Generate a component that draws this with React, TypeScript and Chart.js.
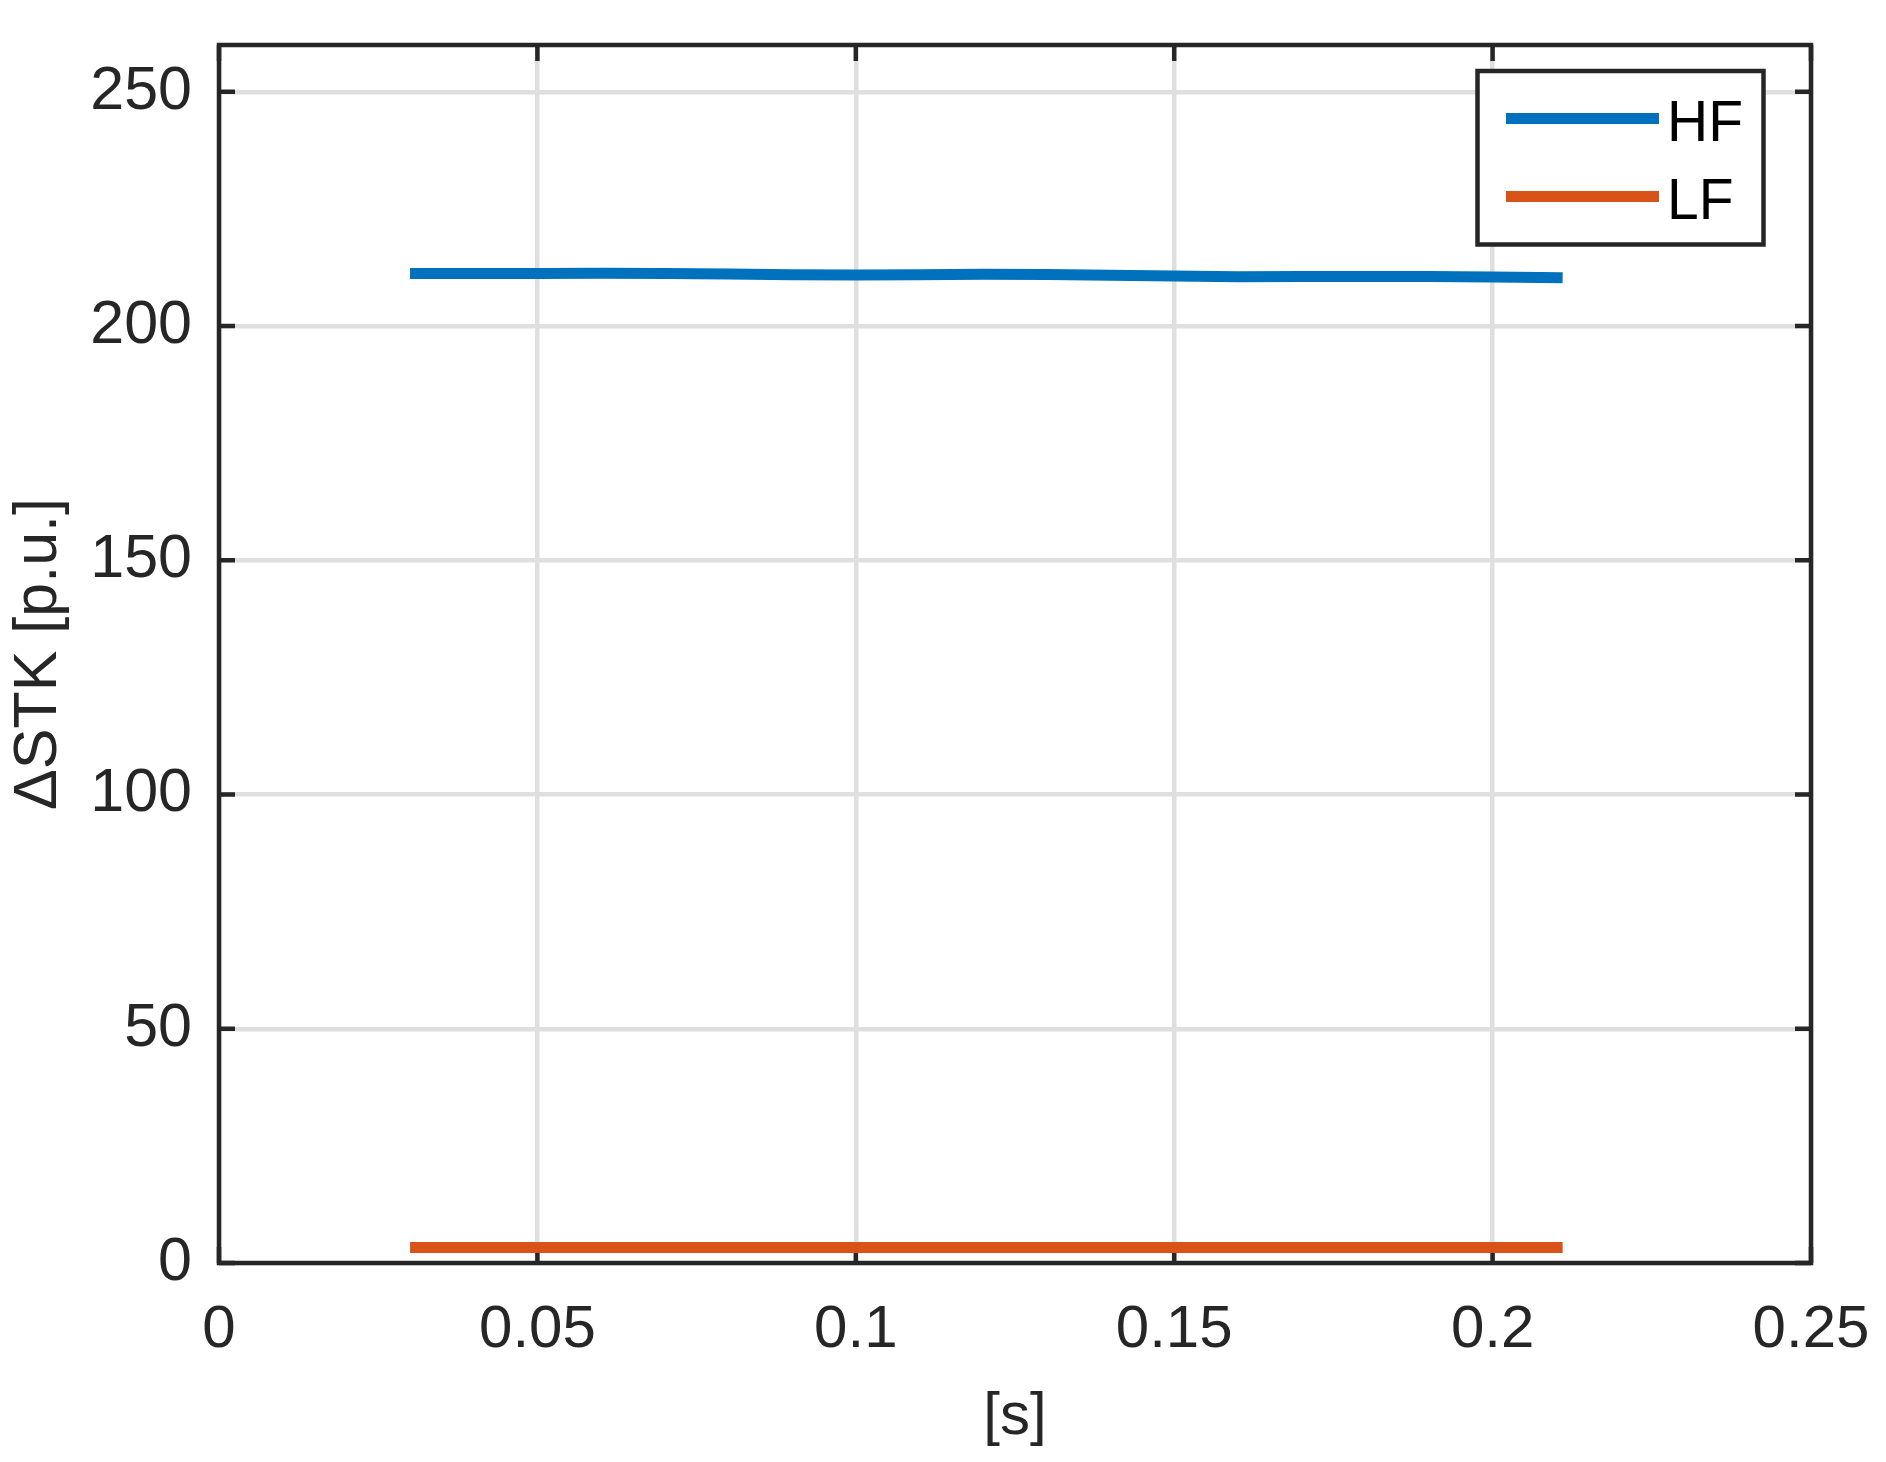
import React, { useEffect, useRef } from "react";
import { Chart, registerables } from "chart.js";

Chart.register(...registerables);

// ---- data ----
const xValues = [0.03, 0.04, 0.05, 0.06, 0.07, 0.08, 0.09, 0.1, 0.11, 0.12, 0.13, 0.14, 0.15, 0.16, 0.17, 0.18, 0.19, 0.2, 0.211];
const hfValues = [211.25, 211.25, 211.25, 211.3, 211.2, 211.1, 210.95, 210.9, 210.95, 211.05, 211.0, 210.85, 210.7, 210.55, 210.6, 210.6, 210.6, 210.45, 210.3];
const lfValues = [3.3, 3.3, 3.3, 3.3, 3.3, 3.3, 3.3, 3.3, 3.3, 3.3, 3.3, 3.3, 3.3, 3.3, 3.3, 3.3, 3.3, 3.3, 3.3];
const seriesNames = ["HF", "LF"];
const xTickValues = [0, 0.05, 0.1, 0.15, 0.2, 0.25];
const xTickLabels = ["0", "0.05", "0.1", "0.15", "0.2", "0.25"];
const yTickValues = [0, 50, 100, 150, 200, 250];
const yTickLabels = ["0", "50", "100", "150", "200", "250"];
const xTitle = "[s]";
const yTitle = "\u0394STK [p.u.]";

// ---- style ----
const FONT = "'Liberation Sans', Arial, Helvetica, sans-serif";
const AXIS_COLOR = "#262626";
const GRID_COLOR = "#dfdfdf";
const COLORS = ["#0072BD", "#D95319"];
const TICK_LEN = 16;
const AXIS_W = 4.5;

const boxPlugin = {
  id: "matlabBox",
  beforeDatasetsDraw(chart: any) {
    const { ctx, chartArea } = chart;
    const { left, right, top, bottom } = chartArea;
    const xs = chart.scales.x;
    const ys = chart.scales.y;
    ctx.save();
    ctx.strokeStyle = AXIS_COLOR;
    ctx.lineWidth = AXIS_W;
    ctx.lineCap = "butt";
    ctx.beginPath();
    xs.ticks.forEach((t: any) => {
      const px = xs.getPixelForValue(t.value);
      ctx.moveTo(px, bottom);
      ctx.lineTo(px, bottom - TICK_LEN);
      ctx.moveTo(px, top);
      ctx.lineTo(px, top + TICK_LEN);
    });
    ys.ticks.forEach((t: any) => {
      const py = ys.getPixelForValue(t.value);
      ctx.moveTo(left, py);
      ctx.lineTo(left + TICK_LEN, py);
      ctx.moveTo(right, py);
      ctx.lineTo(right - TICK_LEN, py);
    });
    ctx.stroke();
    ctx.lineJoin = "miter";
    ctx.strokeRect(left, top, right - left, bottom - top);
    ctx.restore();
  },
};

const legendPlugin = {
  id: "matlabLegend",
  afterDatasetsDraw(chart: any) {
    const { ctx } = chart;
    const bx = 1477.5, by = 71, bw = 286, bh = 173.5;
    ctx.save();
    ctx.fillStyle = "#ffffff";
    ctx.fillRect(bx, by, bw, bh);
    ctx.strokeStyle = AXIS_COLOR;
    ctx.lineWidth = AXIS_W;
    ctx.strokeRect(bx, by, bw, bh);
    chart.data.datasets.forEach((ds: any, i: number) => {
      const cy = 118.5 + i * 78;
      ctx.strokeStyle = ds.borderColor;
      ctx.lineWidth = 11;
      ctx.lineCap = "butt";
      ctx.beginPath();
      ctx.moveTo(1506, cy);
      ctx.lineTo(1659, cy);
      ctx.stroke();
      ctx.fillStyle = "#000000";
      ctx.font = `57px ${FONT}`;
      ctx.textBaseline = "alphabetic";
      ctx.textAlign = "left";
      ctx.fillText(ds.label, 1667, cy + 22.5);
    });
    ctx.restore();
  },
};

const zeroPad = (axis: any) => {
  axis.paddingLeft = 0;
  axis.paddingRight = 0;
  axis.paddingTop = 0;
  axis.paddingBottom = 0;
};

export default function App() {
  const canvasRef = useRef<HTMLCanvasElement | null>(null);

  useEffect(() => {
    document.body.style.margin = "0";
    const canvas = canvasRef.current;
    if (!canvas) return;
    const mk = (vals: number[]) => xValues.map((x, i) => ({ x, y: vals[i] }));
    const chart = new Chart(canvas, {
      type: "line",
      data: {
        datasets: [
          {
            label: seriesNames[0],
            data: mk(hfValues),
            borderColor: COLORS[0],
            backgroundColor: COLORS[0],
            borderWidth: 11,
            pointRadius: 0,
            tension: 0,
            borderCapStyle: "butt",
            fill: false,
          },
          {
            label: seriesNames[1],
            data: mk(lfValues),
            borderColor: COLORS[1],
            backgroundColor: COLORS[1],
            borderWidth: 11,
            pointRadius: 0,
            tension: 0,
            borderCapStyle: "butt",
            fill: false,
          },
        ],
      },
      options: {
        responsive: false,
        animation: false,
        devicePixelRatio: 1,
        layout: { padding: { top: 45, right: 75, left: 0, bottom: 0 } },
        plugins: {
          legend: { display: false },
          tooltip: { enabled: false },
        },
        scales: {
          x: {
            type: "linear",
            min: 0,
            max: 0.25,
            afterBuildTicks: (axis: any) => {
              axis.ticks = xTickValues.map((v) => ({ value: v }));
            },
            afterFit: (axis: any) => {
              axis.height = 199;
              zeroPad(axis);
            },
            ticks: {
              autoSkip: false,
              maxRotation: 0,
              minRotation: 0,
              padding: 31,
              color: AXIS_COLOR,
              font: { family: FONT, size: 60 },
              callback: (_v: any, i: number) => xTickLabels[i],
            },
            grid: { color: GRID_COLOR, lineWidth: 4.5, drawTicks: false },
            border: { display: false },
            title: {
              display: true,
              text: xTitle,
              color: AXIS_COLOR,
              font: { family: FONT, size: 60 },
              padding: { top: 0, bottom: 9 },
            },
          },
          y: {
            type: "linear",
            min: 0,
            max: 260,
            afterBuildTicks: (axis: any) => {
              axis.ticks = yTickValues.map((v) => ({ value: v }));
            },
            afterFit: (axis: any) => {
              axis.width = 219;
              zeroPad(axis);
            },
            ticks: {
              autoSkip: false,
              padding: 27,
              color: AXIS_COLOR,
              font: { family: FONT, size: 61 },
              callback: (_v: any, i: number) => yTickLabels[i],
            },
            grid: { color: GRID_COLOR, lineWidth: 4.5, drawTicks: false },
            border: { display: false },
            title: {
              display: true,
              text: yTitle,
              color: AXIS_COLOR,
              font: { family: FONT, size: 61 },
              padding: { top: 3, bottom: 0 },
            },
          },
        },
      },
      plugins: [boxPlugin, legendPlugin],
    } as any);
    return () => chart.destroy();
  }, []);

  return (
    <div style={{ position: "absolute", left: 0, top: 0, width: 1886, height: 1462, background: "#fff" }}>
      <canvas ref={canvasRef} width={1886} height={1462} style={{ display: "block", width: 1886, height: 1462 }} />
    </div>
  );
}
